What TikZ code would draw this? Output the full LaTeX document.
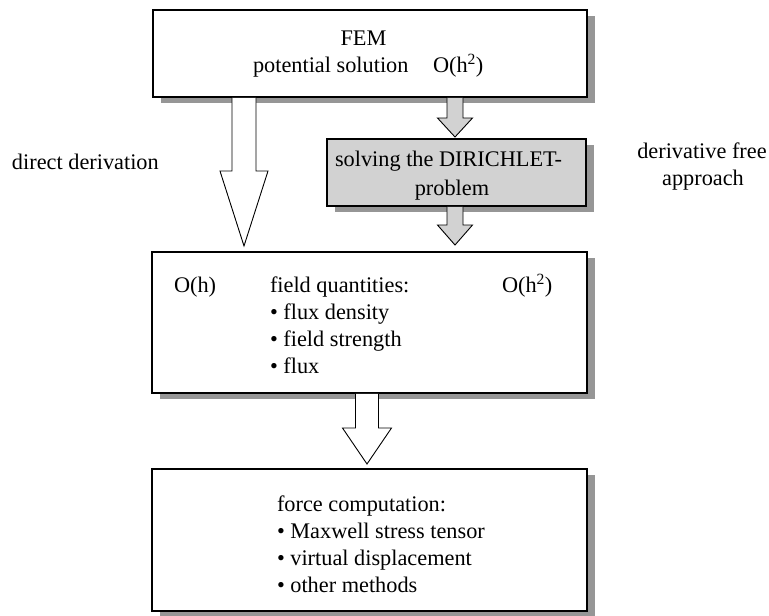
\documentclass[tikz,border=0pt]{standalone}
\usepackage{fontspec}
\setmainfont{Liberation Serif}
\usetikzlibrary{calc,shadows}

\definecolor{boxgrey}{RGB}{210,210,210}
\definecolor{shadowgrey}{RGB}{150,150,150}

% block arrow: #1 style, #2 start anchor, #3 target anchor, #4 centre x,
% #5 shaft half width, #6 head half width, #7 head length, #8 gap to target
\newcommand\blockarrow[8]{%
  \draw[#1] let \p1=(#2), \p2=(#3) in
    ({#4pt-#5pt},{\y1-0.8pt}) -- ({#4pt-#5pt},{\y2+#8pt+#7pt})
    -- ({#4pt-#6pt},{\y2+#8pt+#7pt}) -- ({#4pt},{\y2+#8pt})
    -- ({#4pt+#6pt},{\y2+#8pt+#7pt}) -- ({#4pt+#5pt},{\y2+#8pt+#7pt})
    -- ({#4pt+#5pt},{\y1-0.8pt});
}

\begin{document}
\begin{tikzpicture}[x=1pt,y=-1pt,
  font=\fontsize{22.3}{27}\selectfont,
  box/.style={draw=black, line width=1.6pt, fill=white, inner sep=0pt,
    outer sep=0pt, anchor=north west,
    drop shadow={shadow xshift=8pt, shadow yshift=-6pt, fill=shadowgrey, opacity=1}},
  greybox/.style={box, fill=boxgrey},
  txt/.style={inner sep=0pt, outer sep=0pt, anchor=base west},
  ctxt/.style={inner sep=0pt, outer sep=0pt, anchor=base},
  whitearrow/.style={draw=black, line width=0.9pt, fill=white, line join=miter},
  greyarrow/.style={draw=black, line width=0.9pt, fill=boxgrey, line join=miter}]

\useasboundingbox (0,0) rectangle (769,616);

% boxes
\node[box, minimum width=434pt, minimum height=87pt] (fem) at (153,10) {};
\node[greybox, minimum width=259pt, minimum height=67pt] (dir) at (327,139) {};
\node[box, minimum width=435pt, minimum height=141pt] (fq) at (152,252) {};
\node[box, minimum width=435pt, minimum height=142pt] (force) at (152,469) {};

% block arrows between the boxes
\blockarrow{whitearrow}{fem.south}{fq.north}{244}{12}{24}{75}{6}
\blockarrow{greyarrow}{fem.south}{dir.north}{455}{8}{17.5}{19}{2}
\blockarrow{greyarrow}{dir.south}{fq.north}{455}{8}{17.5}{20}{7}
\blockarrow{whitearrow}{fq.south}{force.north}{367}{11.5}{24.5}{36}{5}

% top box
\node[ctxt] (femtitle) at (363.5,45) {FEM};
\node[txt] (potsol) at (253,72) {potential solution};
\node[txt] (femorder) at (433,72) {O(h\textsuperscript{2})};

% grey box
\node[txt] (solving) at (335,166) {solving the DIRICHLET-};
\node[ctxt] (problem) at (452,195) {problem};

% side labels
\node[txt] (direct) at (12,169) {direct derivation};
\node[ctxt] (derfree) at (702,158) {derivative free};
\node[ctxt] (approach) at (703,185) {approach};

% field quantities box
\node[txt] (oh) at (174,292) {O(h)};
\node[txt] (ohtwo) at (502,292) {O(h\textsuperscript{2})};
\node[txt] (fqtitle) at (270,292) {field quantities:};
\node[txt] (fqa) at (270,319) {• flux density};
\node[txt] (fqb) at (270,346) {• field strength};
\node[txt] (fqc) at (270,373) {• flux};

% force computation box
\node[txt] (fctitle) at (277,511) {force computation:};
\node[txt] (fca) at (277,538) {• Maxwell stress tensor};
\node[txt] (fcb) at (277,565) {• virtual displacement};
\node[txt] (fcc) at (277,592) {• other methods};
\end{tikzpicture}
\end{document}
